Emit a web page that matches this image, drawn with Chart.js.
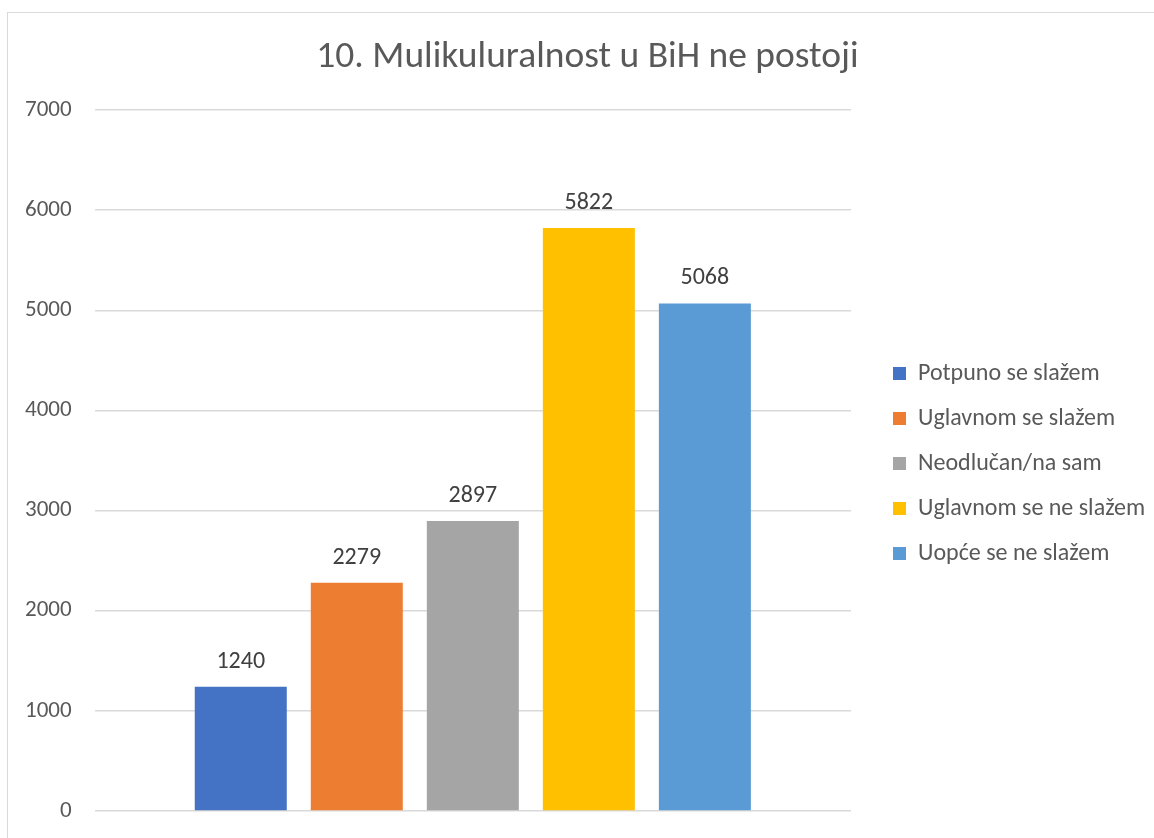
<!DOCTYPE html>
<html>
<head>
<meta charset="utf-8">
<script src="https://cdn.jsdelivr.net/npm/chart.js@4"></script>
<style>
  html, body { margin: 0; padding: 0; background: #fff; overflow: hidden; }
  #frame { position: absolute; left: 7px; top: 12px; width: 1300px; height: 1000px; border: 1.5px solid #d9d9d9; }
  #wrap { position: absolute; left: 0; top: 0; width: 1154px; height: 838px; }
</style>
</head>
<body>
<div id="frame"></div>
<div id="wrap"><canvas id="chart"></canvas></div>
<script>
// DATA
const title = "10. Mulikuluralnost u BiH ne postoji";
const answers = ["Potpuno se slažem", "Uglavnom se slažem", "Neodlučan/na sam", "Uglavnom se ne slažem", "Uopće se ne slažem"];
const counts = [1240, 2279, 2897, 5822, 5068];
const colors = ["#4472C4", "#ED7D31", "#A5A5A5", "#FFC000", "#5B9BD5"];
const yTicks = [0, 1000, 2000, 3000, 4000, 5000, 6000, 7000];

const font = "Carlito, Lato, sans-serif";
const grey = "#595959";

// value labels above each bar
const valueLabels = {
  id: "valueLabels",
  afterDatasetsDraw(chart) {
    const ctx = chart.ctx;
    ctx.save();
    ctx.font = "24px " + font;
    ctx.fillStyle = "#404040";
    ctx.textAlign = "center";
    ctx.textBaseline = "middle";
    chart.data.datasets.forEach((ds, i) => {
      const bar = chart.getDatasetMeta(i).data[0];
      ctx.fillText(ds.data[0], bar.x, bar.y - 25);
    });
    ctx.restore();
  }
};

// fixed legend width so the plot area ends where the reference does,
// plus small nudges of the title and legend blocks
const blockTweaks = {
  id: "blockTweaks",
  beforeInit(chart) {
    const fit = chart.legend.fit;
    chart.legend.fit = function () {
      fit.call(this);
      this.width = 282;
    };
  },
  afterLayout(chart) {
    chart.titleBlock.left += 19;
    chart.legend.top += 3;
    chart.legend.bottom += 3;
  }
};

new Chart(document.getElementById("chart"), {
  type: "bar",
  data: {
    labels: [""],
    datasets: answers.map((a, i) => ({
      label: a,
      data: [counts[i]],
      backgroundColor: colors[i],
      categoryPercentage: 0.767,
      barPercentage: 0.793
    }))
  },
  options: {
    responsive: true,
    maintainAspectRatio: false,
    animation: false,
    layout: { padding: { left: 2, right: 0, top: 35, bottom: 27 } },
    scales: {
      x: { display: false },
      y: {
        min: 0,
        max: 7000,
        afterBuildTicks: s => { s.ticks = yTicks.map(v => ({ value: v })); },
        grid: { color: "#d9d9d9", lineWidth: 1.5, drawTicks: false },
        border: { display: false },
        ticks: { color: grey, font: { family: font, size: 23, lineHeight: 0.3 }, padding: 23, callback: v => String(v) }
      },
      gap: {
        position: "right",
        grid: { display: false },
        ticks: { display: false },
        border: { display: false },
        afterFit: s => { s.width = 21; }
      }
    },
    plugins: {
      title: {
        display: true,
        text: title,
        color: grey,
        font: { family: font, size: 37.5, weight: "normal" },
        padding: { top: 0, bottom: 30 }
      },
      legend: {
        position: "right",
        fullSize: false,
        maxWidth: 400,
        labels: {
          color: grey,
          font: { family: font, size: 24 },
          boxWidth: 13,
          boxHeight: 13,
          padding: 21
        }
      },
      tooltip: { enabled: false }
    }
  },
  plugins: [valueLabels, blockTweaks]
});
</script>
</body>
</html>
